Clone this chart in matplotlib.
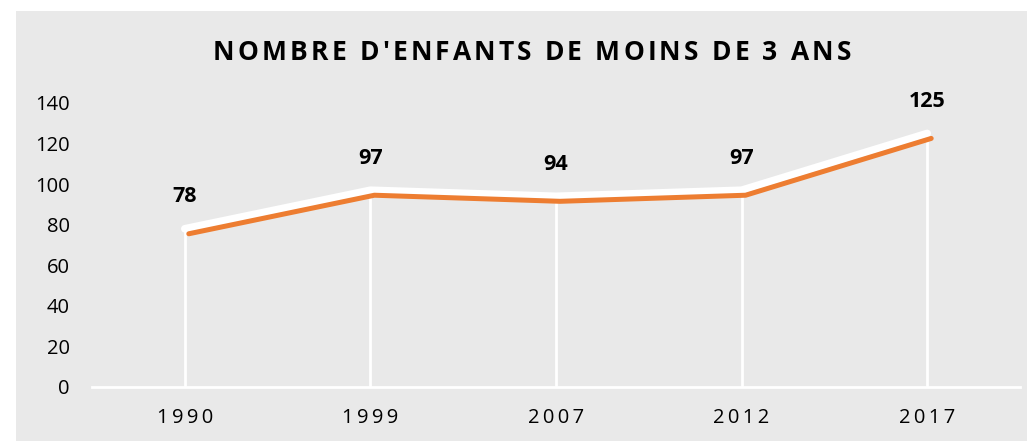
import matplotlib
matplotlib.use("Agg")
import matplotlib.pyplot as plt
import matplotlib.transforms as mtransforms
from matplotlib.patches import Rectangle

years = ["1990", "1999", "2007", "2012", "2017"]
enfants = [78, 97, 94, 97, 125]
yticks = [0, 20, 40, 60, 80, 100, 120, 140]
title = "NOMBRE D'ENFANTS DE MOINS DE 3 ANS"

BG = "#e9e9e9"
ORANGE = "#ed7d31"
FONT = "Open Sans"

W, H = 1027, 441
fig = plt.figure(figsize=(W / 100, H / 100), dpi=100)
fig.patch.set_facecolor("white")
fig.patches.append(Rectangle((16 / W, 0), 1 - 16 / W, (H - 11) / H,
                             transform=fig.transFigure, facecolor=BG,
                             edgecolor="none", zorder=-10))

ax = fig.add_axes([92 / W, (H - 387) / H, (1020 - 92) / W, (387 - 103) / H])
ax.patch.set_alpha(0)
x = list(range(len(years)))

# drop lines + white "shadow" line + orange line shifted down-right
ax.vlines(x, 0, enfants, color="white", lw=2, zorder=2)
ax.plot(x, enfants, color="white", lw=5.5, solid_capstyle="round", zorder=3)
shift = mtransforms.offset_copy(ax.transData, fig=fig, x=4, y=-5, units="dots")
ax.plot(x, enfants, color=ORANGE, lw=3.6, solid_capstyle="round",
        transform=shift, zorder=4)

for xi, v in zip(x, enfants):
    ax.annotate(str(v), (xi, v), xytext=(0, 23), textcoords="offset points",
                ha="center", va="center", fontsize=15.5, fontweight="bold",
                family=FONT, color="black", annotation_clip=False)

ax.set_xlim(-0.5, len(years) - 0.5)
ax.set_ylim(0, 140)
ax.set_yticks(yticks)
ax.set_yticklabels([str(t) for t in yticks], family=FONT, fontsize=14.5)
ax.set_xticks(x)
ax.set_xticklabels(["\u2009".join(y) for y in years], family=FONT, fontsize=14.5)
ax.tick_params(axis="y", length=0, pad=16)
ax.tick_params(axis="x", length=0, pad=15)
for s in ["top", "right", "left"]:
    ax.spines[s].set_visible(False)
ax.spines["bottom"].set_color("white")
ax.spines["bottom"].set_linewidth(2)
ax.spines["bottom"].set_zorder(1)

# letter-spaced title, drawn glyph by glyph
renderer = fig.canvas.get_renderer()
tprops = dict(fontsize=19, fontweight="bold", family=FONT, color="black")
tmp = fig.text(0, 0, "", **tprops)


def prefix_width(s):
    if not s:
        return 0.0
    tmp.set_text(s.replace(" ", "\u00a0") + "|")
    w = tmp.get_window_extent(renderer).width
    tmp.set_text("|")
    return w - tmp.get_window_extent(renderer).width


spacing = 3.2
total = prefix_width(title) + spacing * (len(title) - 1)
x0 = 532 - total / 2
for i, ch in enumerate(title):
    if ch == " ":
        continue
    px = x0 + prefix_width(title[:i]) + spacing * i
    fig.text(px / W, (H - 52) / H, ch, ha="left", va="center", **tprops)
tmp.remove()

fig.savefig("out.png", dpi=100, facecolor=fig.get_facecolor())
